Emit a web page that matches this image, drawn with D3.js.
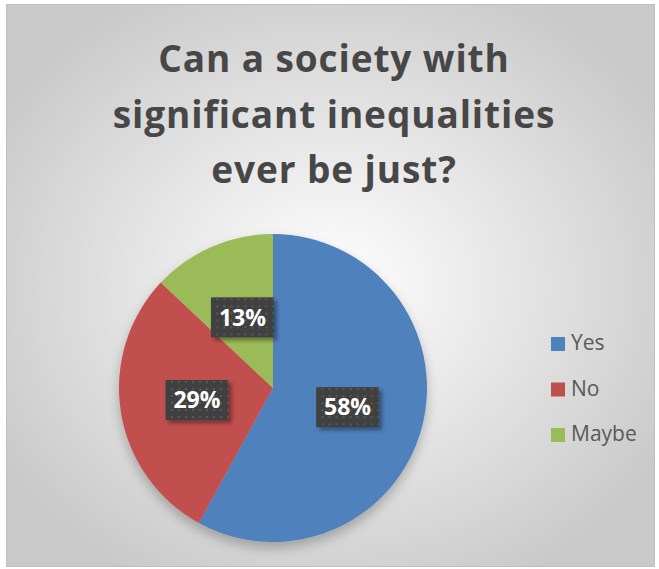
<!DOCTYPE html>
<html><head><meta charset="utf-8">
<script src="https://cdn.jsdelivr.net/npm/d3@7"></script>
<style>body{margin:0;background:#fff}svg{display:block}</style>
</head><body>
<svg id="c" width="659" height="569"></svg>
<script>
const categories = ["Yes", "No", "Maybe"];
const values = [58, 29, 13];
const labels = ["58%", "29%", "13%"];
const colors = ["#4f81bd", "#c0504d", "#9bbb59"];
const titleLines = ["Can a society with", "significant inequalities", "ever be just?"];

const svg = d3.select("#c");
const defs = svg.append("defs");
const rg = defs.append("radialGradient").attr("id","bg").attr("cx","50%").attr("cy","50%").attr("r","60%");
rg.append("stop").attr("offset","0%").attr("stop-color","#ffffff");
rg.append("stop").attr("offset","100%").attr("stop-color","#c9c9c9");
const pat = defs.append("pattern").attr("id","dots").attr("width",7).attr("height",7).attr("patternUnits","userSpaceOnUse");
pat.append("rect").attr("width",7).attr("height",7).attr("fill","#404040");
pat.append("rect").attr("x",2).attr("y",2).attr("width",2).attr("height",2).attr("fill","#595959");
const sh = defs.append("filter").attr("id","sh").attr("x","-20%").attr("y","-20%").attr("width","140%").attr("height","150%");
sh.append("feGaussianBlur").attr("in","SourceAlpha").attr("stdDeviation",6);
sh.append("feOffset").attr("dy",6).attr("result","b");
sh.append("feComponentTransfer").append("feFuncA").attr("type","linear").attr("slope",0.25);
const m = sh.append("feMerge"); m.append("feMergeNode"); m.append("feMergeNode").attr("in","SourceGraphic");
const sh2 = defs.append("filter").attr("id","sh2").attr("x","-20%").attr("y","-20%").attr("width","150%").attr("height","150%");
sh2.append("feGaussianBlur").attr("in","SourceAlpha").attr("stdDeviation",2);
sh2.append("feOffset").attr("dx",3).attr("dy",3);
sh2.append("feComponentTransfer").append("feFuncA").attr("type","linear").attr("slope",0.4);
const m2 = sh2.append("feMerge"); m2.append("feMergeNode"); m2.append("feMergeNode").attr("in","SourceGraphic");

svg.append("rect").attr("x",6.5).attr("y",4.5).attr("width",648).attr("height",562)
  .attr("fill","url(#bg)").attr("stroke","#bfbfbf");

svg.append("g").selectAll("text").data(titleLines).join("text")
  .attr("x",334).attr("y",(d,i)=>72+i*55.5).attr("text-anchor","middle")
  .attr("font-family","'Open Sans', sans-serif").attr("font-weight","bold")
  .attr("font-size",37).attr("letter-spacing","0.9px").attr("fill","#474747").text(d=>d);

const cx = 273, cy = 388, r = 154;
const pie = d3.pie().sort(null).value(d=>d)(values);
const arc = d3.arc().innerRadius(0).outerRadius(r);
const g = svg.append("g").attr("transform",`translate(${cx},${cy})`);
g.append("g").attr("filter","url(#sh)").selectAll("path").data(pie).join("path")
  .attr("d",arc).attr("fill",(d,i)=>colors[i]);

const labelArc = d3.arc().innerRadius(r*0.5).outerRadius(r*0.5);
const bw = 63, bh = 40;
const lg = g.selectAll("g.lab").data(pie).join("g").attr("class","lab")
  .attr("transform",d=>{const c=labelArc.centroid(d);return `translate(${c[0]},${c[1]})`;});
lg.append("rect").attr("x",-bw/2).attr("y",-bh/2).attr("width",bw).attr("height",bh)
  .attr("fill","url(#dots)").attr("filter","url(#sh2)");
lg.append("text").attr("text-anchor","middle").attr("dy","0.36em")
  .attr("font-family","'Open Sans', sans-serif").attr("font-weight","bold")
  .attr("font-size",23).attr("fill","#ffffff").text((d,i)=>labels[i]);

const leg = svg.append("g").selectAll("g").data(categories).join("g")
  .attr("transform",(d,i)=>`translate(551,${337+i*45.5})`);
leg.append("rect").attr("width",14).attr("height",14).attr("fill",(d,i)=>colors[i]);
leg.append("text").attr("x",20).attr("y",13)
  .attr("font-family","'Open Sans', sans-serif").attr("font-size",21)
  .attr("fill","#595959").text(d=>d);
</script>
</body></html>
